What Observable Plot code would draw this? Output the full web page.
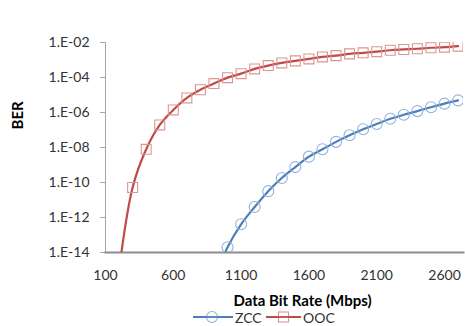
<!DOCTYPE html>
<html>
<head>
<meta charset="utf-8">
<script src="https://cdn.jsdelivr.net/npm/d3@7"></script>
<script src="https://cdn.jsdelivr.net/npm/@observablehq/plot@0.6"></script>
<style>
  html, body { margin: 0; padding: 0; background: #fff; }
  #wrap { width: 465px; height: 326px; position: relative; overflow: hidden; }
  #legend { position: relative; height: 18px; font: 14px Lato, sans-serif; color: #333; }
  #legend .item { position: absolute; top: 0; height: 18px; display: flex; align-items: center; }
  #legend svg { display: block; }
</style>
</head>
<body>
<div id="wrap"></div>
<script>
// Data bit rate (Mbps)
const zccRate = [900, 1000, 1100, 1200, 1300, 1400, 1500, 1600, 1700, 1800, 1900, 2000, 2100, 2200, 2300, 2400, 2500, 2600, 2700];
const zccBER  = [2.5e-16, 2.0e-14, 4.1e-13, 4.0e-12, 3.2e-11, 1.8e-10, 7.6e-10, 3.0e-9, 7.9e-9, 2.1e-8, 5.0e-8, 1.1e-7, 2.2e-7, 4.4e-7, 7.4e-7, 1.2e-6, 2.0e-6, 3.2e-6, 4.9e-6];

const oocRate = [200, 300, 400, 500, 600, 700, 800, 900, 1000, 1100, 1200, 1300, 1400, 1500, 1600, 1700, 1800, 1900, 2000, 2100, 2200, 2300, 2400, 2500, 2600, 2700];
const oocBER  = [1.0e-15, 5.2e-11, 7.9e-9, 1.95e-7, 1.4e-6, 6.8e-6, 2.0e-5, 4.5e-5, 9.8e-5, 1.66e-4, 3.1e-4, 4.8e-4, 6.8e-4, 8.9e-4, 1.15e-3, 1.5e-3, 1.78e-3, 2.24e-3, 2.57e-3, 3.0e-3, 3.6e-3, 4.0e-3, 4.4e-3, 5.0e-3, 5.4e-3, 6.2e-3];

const xTicks = [100, 600, 1100, 1600, 2100, 2600];
const xTickLabels = ["100", "600", "1100", "1600", "2100", "2600"];
const yTicks = [1e-2, 1e-4, 1e-6, 1e-8, 1e-10, 1e-12, 1e-14];
const yTickLabels = ["1.E-02", "1.E-04", "1.E-06", "1.E-08", "1.E-10", "1.E-12", "1.E-14"];

const seriesNames = ["ZCC", "OOC"];
const xTitle = "Data Bit Rate (Mbps)";
const yTitle = "BER";

const zcc = zccRate.map((r, i) => ({rate: r, ber: zccBER[i]}));
const ooc = oocRate.map((r, i) => ({rate: r, ber: oocBER[i]}));

const blue = "#4a7ebb", blueMk = "#93b3dc";
const red = "#be4b48", redMk = "#dc9492";

const chart = Plot.plot({
  width: 465,
  height: 308,
  marginLeft: 105,
  marginRight: 2,
  marginTop: 42,
  marginBottom: 56,
  style: {fontFamily: "Lato, sans-serif", fontSize: "14px", background: "white", overflow: "visible"},
  x: {type: "linear", domain: [100, 2740]},
  y: {type: "log", domain: [1e-14, 1e-2]},
  marks: [
    Plot.axisY({ticks: yTicks, tickFormat: d => yTickLabels[yTicks.findIndex(t => Math.abs(Math.log10(t) - Math.log10(d)) < 1e-6)], tickSize: 5, tickPadding: 11, stroke: "#a6a6a6", fill: "#333", label: null}),
    Plot.axisX({ticks: xTicks, tickFormat: d => xTickLabels[xTicks.indexOf(d)], tickSize: 0, tickPadding: 18, fill: "#333", label: null}),
    Plot.frame({anchor: "left", stroke: "#a6a6a6", strokeWidth: 1}),
    Plot.frame({anchor: "bottom", stroke: "#8c8c8c", strokeWidth: 2}),
    Plot.line(zcc, {x: "rate", y: "ber", stroke: blue, strokeWidth: 2.2, curve: "catmull-rom", clip: true}),
    Plot.line(ooc, {x: "rate", y: "ber", stroke: red, strokeWidth: 2.2, curve: "catmull-rom", clip: true}),
    Plot.dot(zcc, {x: "rate", y: "ber", r: 5.5, symbol: "circle", stroke: blueMk, strokeWidth: 1.1, fill: "none", clip: true}),
    Plot.dot(ooc, {x: "rate", y: "ber", r: 5.6, symbol: "square", stroke: redMk, strokeWidth: 1.1, fill: "none", clip: true}),
    Plot.text([yTitle], {frameAnchor: "left", rotate: -90, dx: -87, dy: -18, fontWeight: "bold", fontSize: 15, fill: "#000"}),
    Plot.text([xTitle], {frameAnchor: "bottom", dx: 18, dy: 53, fontWeight: "bold", fontSize: 15, fill: "#000"})
  ]
});

const wrap = document.getElementById("wrap");
wrap.appendChild(chart);

// Legend (HTML, below the SVG)
const legend = document.createElement("div");
legend.id = "legend";
const entries = [
  {name: seriesNames[0], color: blue, mk: blueMk, sym: "circle", left: 193},
  {name: seriesNames[1], color: red, mk: redMk, sym: "square", left: 266}
];
for (const e of entries) {
  const item = document.createElement("div");
  item.className = "item";
  item.style.left = e.left + "px";
  const w = e.sym === "circle" ? 40 : 35;
  const shape = e.sym === "circle"
    ? `<circle cx="19" cy="9" r="5.5" fill="white" stroke="${e.mk}" stroke-width="1.1"/>`
    : `<rect x="12.5" y="4" width="10" height="10" fill="white" stroke="${e.mk}" stroke-width="1.1"/>`;
  item.innerHTML = `<svg width="${w}" height="18"><line x1="0" x2="${w}" y1="9" y2="9" stroke="${e.color}" stroke-width="2.2"/>${shape}<line x1="0" x2="${w}" y1="9" y2="9" stroke="${e.color}" stroke-width="2.2" opacity="0.9"/></svg><span style="margin-left:2px">${e.name}</span>`;
  legend.appendChild(item);
}
wrap.appendChild(legend);
</script>
</body>
</html>
